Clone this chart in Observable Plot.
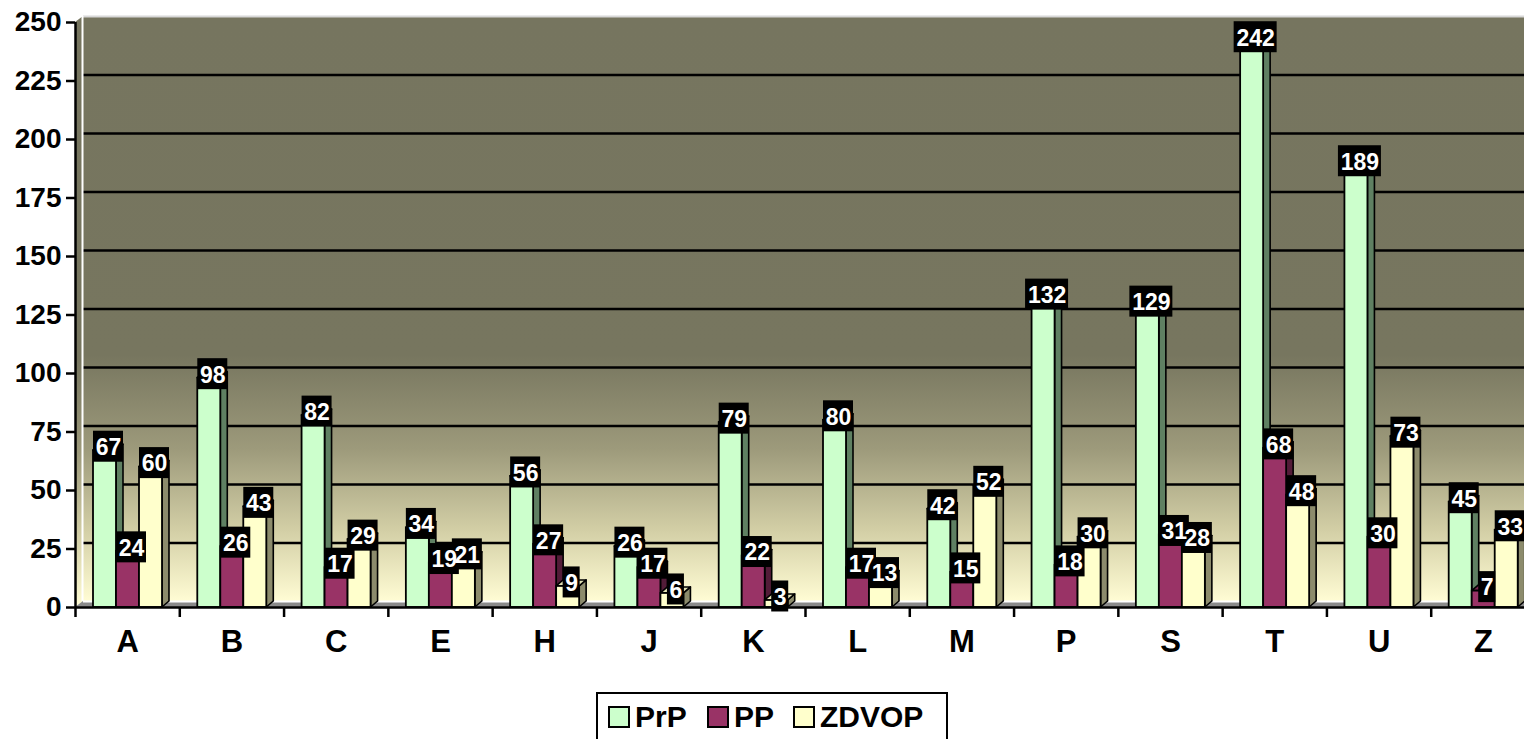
<!DOCTYPE html>
<html><head><meta charset="utf-8">
<script src="https://cdn.jsdelivr.net/npm/d3@7"></script>
<script src="https://cdn.jsdelivr.net/npm/@observablehq/plot@0.6"></script>
<style>
html,body{margin:0;padding:0;background:#fff;overflow:hidden;width:1524px;height:739px;}
#chart{position:absolute;left:0;top:0;width:1540px;}
#chart svg{max-width:none !important;}
#legend{position:absolute;left:596px;top:692px;width:352px;height:60px;border:2px solid #000;box-sizing:border-box;font-family:Arial,"Liberation Sans",sans-serif;font-weight:bold;font-size:30px;color:#000;}
.item{position:absolute;top:11px;display:flex;align-items:center;height:24px;}
.sw{width:18px;height:18px;border:2px solid #000;margin-right:5px;}
</style></head><body>
<div id="chart"></div>
<div id="legend"></div>
<script>
const categories = ["A","B","C","E","H","J","K","L","M","P","S","T","U","Z"];
const seriesNames = ["PrP","PP","ZDVOP"];
const prp   = [67,98,82,34,56,26,79,80,42,132,129,242,189,45];
const pp    = [24,26,17,19,27,17,22,17,15,18,31,68,30,7];
const zdvop = [60,43,29,21,9,6,3,13,52,30,28,48,73,33];
const yTicks = [0,25,50,75,100,125,150,175,200,225,250];

const frontColors = ["#ccffcc","#993366","#ffffcc"];
const sideColors  = ["#5f8062","#531c38","#8c8b6c"];
const topColors   = ["#a9d9a9","#7a2952","#e2e2b4"];

// layout
const W = 1540, H = 680, mL = 75, mR = 5, mT = 22, mB = 73;
const kx = (W - mL - mR) / categories.length;   // px per category
const ky = (H - mT - mB) / 250;                 // px per unit
const depthX = 7 / kx, depthY = 6 / ky;         // bar depth in data units
const wallDX = 8, wallDY = -6;                  // wall offset in px
const groupStart = 18 / kx, barW = 23 / kx;

const seriesValues = [prp, pp, zdvop];
const bars = [];
seriesValues.forEach((vals, j) => vals.forEach((v, i) => {
  const xl = i + groupStart + j * barW;
  bars.push({id: j + "-" + i, s: j, cat: categories[i], v, xl, xr: xl + barW, xc: xl + barW / 2});
}));

const sideRows = [], topRows = [];
bars.forEach(b => {
  sideRows.push({id: b.id, s: b.s, x: b.xr, y1: 0, y2: b.v});
  sideRows.push({id: b.id, s: b.s, x: b.xr + depthX, y1: depthY, y2: b.v + depthY});
  topRows.push({id: b.id, s: b.s, y: b.v, x1: b.xl, x2: b.xr});
  topRows.push({id: b.id, s: b.s, y: b.v + depthY, x1: b.xl + depthX, x2: b.xr + depthX});
});

const defs = () => {
  const ns = "http://www.w3.org/2000/svg";
  const d = document.createElementNS(ns, "defs");
  const g = document.createElementNS(ns, "linearGradient");
  g.setAttribute("id", "wallGrad");
  g.setAttribute("x1", "0"); g.setAttribute("y1", "0");
  g.setAttribute("x2", "0"); g.setAttribute("y2", "1");
  [["0%","#76755f"],["58%","#77765f"],["74%","#9d9a7b"],["88%","#d3cfa6"],["100%","#fffcd4"]].forEach(([o,c]) => {
    const s = document.createElementNS(ns, "stop");
    s.setAttribute("offset", o); s.setAttribute("stop-color", c);
    g.appendChild(s);
  });
  d.appendChild(g);
  return d;
};

const wallDepthX = depthX * 8 / 7;
const marks = [
  defs,
  // back wall
  Plot.rect([0], {x1: 0, x2: categories.length, y1: 0, y2: 250, dx: wallDX, dy: wallDY, fill: "url(#wallGrad)"}),
  // side wall
  Plot.areaY([{x: 0, y1: 0, y2: 250}, {x: wallDepthX, y1: depthY, y2: 250 + depthY}], {x: "x", y1: "y1", y2: "y2", fill: "url(#wallGrad)"}),
  // floor
  Plot.areaX([{y: 0, x1: 0, x2: categories.length}, {y: depthY, x1: wallDepthX, x2: categories.length + wallDepthX}], {y: "y", x1: "x1", x2: "x2", fill: "#8a8a8a"}),
  Plot.ruleY([0], {x1: 0, x2: categories.length, dx: wallDX, dy: wallDY, stroke: "#ffffff", strokeWidth: 2}),
  // gridlines on back wall
  Plot.ruleY(yTicks.filter(t => t > 0 && t < 250), {x1: 0, x2: categories.length, dx: wallDX, dy: wallDY, stroke: "#000", strokeWidth: 2.5}),
  Plot.ruleY([250], {x1: 0, x2: categories.length, dx: wallDX, dy: wallDY, stroke: "#d8d8d8", strokeWidth: 2}),
  Plot.ruleX([0], {y1: 0, y2: 250, dx: wallDX - 1, dy: wallDY, stroke: "#ffffff", strokeWidth: 2}),
];

// bar side faces
seriesNames.forEach((s, j) => {
  marks.push(Plot.areaY(sideRows.filter(r => r.s === j), {x: "x", y1: "y1", y2: "y2", z: "id", fill: sideColors[j], stroke: "#000", strokeWidth: 1.6, strokeLinejoin: "round"}));
});
// bar top faces
seriesNames.forEach((s, j) => {
  marks.push(Plot.areaX(topRows.filter(r => r.s === j), {y: "y", x1: "x1", x2: "x2", z: "id", fill: topColors[j], stroke: "#000", strokeWidth: 1.6, strokeLinejoin: "round"}));
});
// bar fronts
seriesNames.forEach((s, j) => {
  marks.push(Plot.rect(bars.filter(b => b.s === j), {x1: "xl", x2: "xr", y1: 0, y2: "v", fill: frontColors[j], stroke: "#000", strokeWidth: 1.8}));
});

// axes
marks.push(
  Plot.ruleX([0], {y1: 0, y2: 250, stroke: "#000", strokeWidth: 2.5}),
  Plot.ruleY([0], {x1: 0, x2: categories.length, stroke: "#000", strokeWidth: 2.5}),
  Plot.axisY({ticks: yTicks, tickSize: 9, tickPadding: 5, fontSize: 28, fontWeight: "bold", strokeWidth: 2.5, label: null, tickFormat: d => String(d)}),
  Plot.axisX({ticks: d3.range(0, categories.length + 1), tickSize: 10, tickFormat: () => "", strokeWidth: 2.5, label: null}),
  Plot.axisX({ticks: categories.map((c, i) => i + 0.5), tickSize: 0, tickPadding: 22, tickFormat: d => categories[Math.floor(d)], fontSize: 31, fontWeight: "bold", label: null})
);

// value labels
const boxW = {1: 17, 2: 30, 3: 43};
[1, 2, 3].forEach(n => {
  const sub = bars.filter(b => String(b.v).length === n);
  marks.push(Plot.rect(sub, {x1: "xc", x2: "xc", y1: "v", y2: "v", insetLeft: -boxW[n] / 2, insetRight: -boxW[n] / 2, insetTop: -15.5, insetBottom: -15.5, dx: 3.5, dy: -4, fill: "#000"}));
});
marks.push(Plot.text(bars, {x: "xc", y: "v", text: d => String(d.v), dx: 3.5, dy: -3, fill: "#fff", fontSize: 23, fontWeight: "bold", lineAnchor: "middle"}));

const chart = Plot.plot({
  width: W, height: H,
  marginLeft: mL, marginRight: mR, marginTop: mT, marginBottom: mB,
  style: {fontFamily: "Arial, 'Liberation Sans', sans-serif", background: "transparent", overflow: "visible", color: "#000", maxWidth: "none"},
  x: {type: "linear", domain: [0, categories.length], range: [mL, W - mR]},
  y: {type: "linear", domain: [0, 250], range: [H - mB, mT]},
  marks
});
chart.style.maxWidth = "none";
chart.style.width = W + "px";
chart.style.height = H + "px";
document.getElementById("chart").appendChild(chart);

// legend
const legend = document.getElementById("legend");
const lefts = [10, 109, 195];
seriesNames.forEach((s, j) => {
  const it = document.createElement("div");
  it.className = "item";
  it.style.left = lefts[j] + "px";
  const sw = document.createElement("div");
  sw.className = "sw";
  sw.style.background = frontColors[j];
  const t = document.createElement("span");
  t.textContent = s;
  it.appendChild(sw); it.appendChild(t);
  legend.appendChild(it);
});
</script>
</body></html>
